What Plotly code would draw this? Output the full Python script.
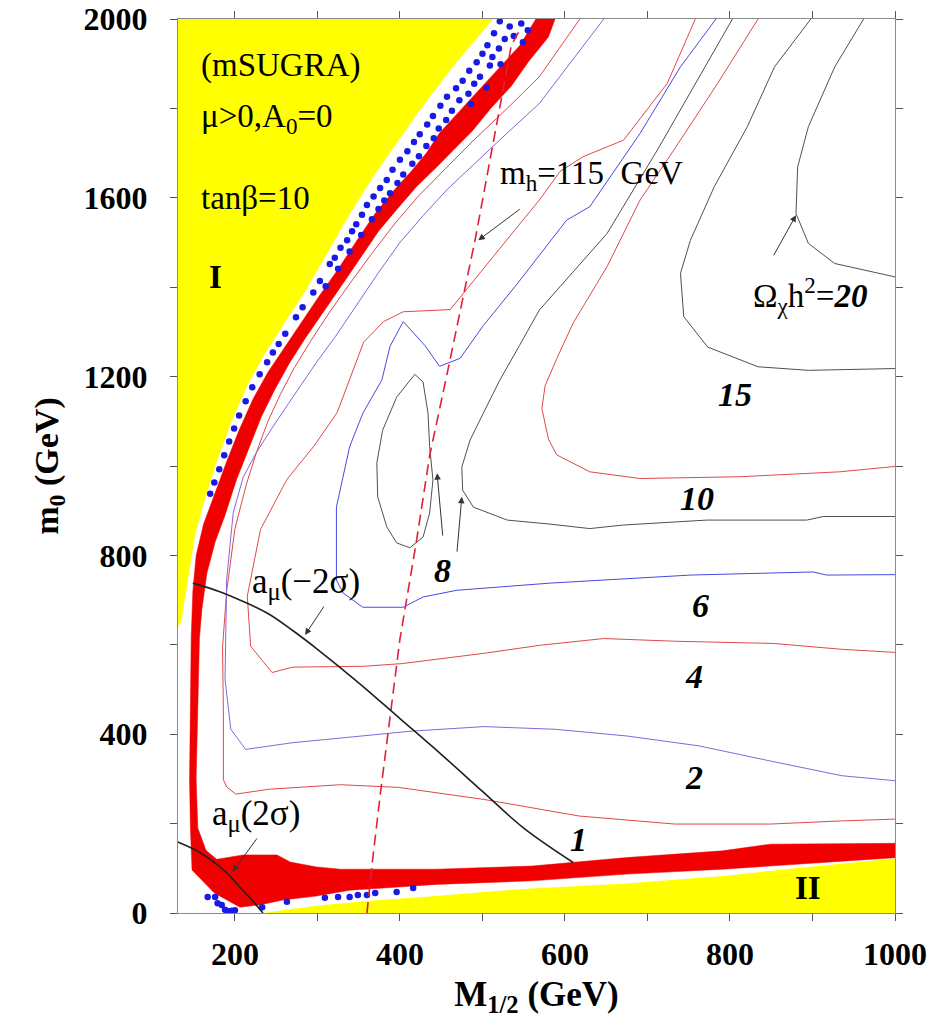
import plotly.graph_objects as go

# ---------------- data (M_1/2 in GeV, m_0 in GeV) ----------------
# excluded region I (upper left)
yellow_I_x = [100, 513, 464, 424, 395, 365, 338, 310, 285, 260, 236, 215, 196, 180, 166, 152, 143, 135, 131, 100]
yellow_I_y = [2000, 2000, 1893, 1796, 1720, 1640, 1560, 1470, 1390, 1320, 1250, 1180, 1100, 1020, 940, 850, 750, 652, 640, 640]
# excluded region II (bottom)
yellow_II_x = [234, 300, 360, 444, 521, 560, 675, 791, 907, 1010, 1010]
yellow_II_y = [0, 17, 27, 38, 50, 55, 66, 83, 105, 124, 0]

# allowed band: outer edge (top -> bottom -> right) and inner edge (top -> bottom -> right)
band_outer_x = [568, 545, 515, 490, 470, 448, 432, 414, 392, 370, 348, 325, 302, 280, 260, 240, 222, 205, 190, 176, 162, 153, 149, 147, 146, 145, 146, 148, 175, 206, 230, 258, 299, 339, 357, 444, 560, 675, 791, 907, 1010]
band_outer_y = [2010, 1940, 1880, 1830, 1790, 1745, 1700, 1660, 1615, 1565, 1505, 1440, 1380, 1320, 1265, 1210, 1150, 1080, 1010, 940, 870, 800, 720, 615, 450, 300, 193, 96, 45, 13, 18, 29, 38, 51, 53, 64, 72, 87, 98, 113, 125]
band_inner_x = [590, 580, 556, 535, 510, 488, 466, 444, 420, 398, 374, 350, 326, 305, 285, 266, 248, 232, 217, 202, 188, 176, 166, 160, 157, 155, 153, 155, 165, 178, 210, 251, 267, 299, 328, 444, 560, 675, 791, 849, 1010]
band_inner_y = [2010, 1960, 1905, 1850, 1800, 1750, 1710, 1668, 1625, 1578, 1525, 1460, 1395, 1340, 1285, 1230, 1170, 1110, 1040, 970, 890, 830, 760, 680, 615, 450, 300, 190, 140, 120, 130, 130, 114, 103, 98, 98, 105, 124, 139, 154, 156]

# scanned points (blue dots)
dots_x = [521, 533, 547, 555, 514, 538, 527, 549, 506, 520, 500, 512, 493, 509, 522, 484, 497, 476, 490, 505,
          468, 483, 457, 472, 486, 449, 463, 440, 456, 433, 447, 424, 441, 417, 432, 409, 423, 400, 415, 391,
          404, 384, 397, 376, 388, 368, 381, 360, 374, 354, 366, 347, 342, 353, 336, 328, 339, 321, 315, 325,
          303, 310, 295, 282, 274, 261, 253, 246, 239, 230, 221, 213, 205, 199, 193, 187, 181, 175, 170,
          167, 176, 179, 184, 188, 192, 196, 200, 233, 263, 309, 325, 339, 349, 360, 370, 396, 416]
dots_y = [1995, 1983, 1990, 1975, 1968, 1962, 1955, 1948, 1941, 1934, 1922, 1915, 1903, 1896, 1899, 1884, 1871, 1862, 1855, 1847,
          1845, 1833, 1826, 1818, 1810, 1806, 1795, 1783, 1774, 1764, 1755, 1742, 1733, 1725, 1716, 1704, 1693, 1685, 1676, 1663,
          1652, 1640, 1633, 1622, 1610, 1603, 1594, 1584, 1575, 1562, 1552, 1541, 1525, 1517, 1505, 1488, 1480, 1466, 1452, 1441,
          1414, 1402, 1388, 1355, 1333, 1296, 1273, 1254, 1232, 1205, 1176, 1145, 1113, 1084, 1055, 1024, 993, 963, 938,
          36, 36, 22, 18, 7, 4, 5, 6, 13, 25, 34, 36, 36, 40, 40, 45, 47, 56]

# relic density contours Omega h^2
c1_x = [618, 569, 530, 490, 455, 423, 395, 367, 340, 315, 292, 272, 255, 240, 226, 214, 200, 190, 185, 186, 186, 190, 201, 242, 328, 398, 502, 617, 733, 849, 935, 1000]
c1_y = [2000, 1871, 1800, 1730, 1665, 1605, 1545, 1478, 1410, 1345, 1280, 1220, 1160, 1100, 1030, 960, 860, 720, 595, 450, 298, 282, 266, 277, 287, 281, 254, 217, 199, 199, 206, 210]
c2_x = [647, 569, 530, 492, 458, 428, 400, 373, 347, 322, 300, 283, 265, 245, 226, 210, 198, 190, 188, 195, 213, 270, 357, 415, 502, 588, 675, 762, 849, 936, 1000]
c2_y = [2000, 1811, 1745, 1680, 1620, 1560, 1500, 1430, 1360, 1290, 1235, 1190, 1140, 1085, 1030, 975, 896, 747, 523, 411, 366, 381, 396, 407, 417, 411, 396, 374, 340, 307, 296]
c4_x = [758, 724, 671, 622, 594, 569, 541, 485, 461, 404, 380, 356, 339, 324, 296, 263, 231, 215, 219, 245, 270, 357, 403, 502, 570, 647, 733, 853, 935, 1000]
c4_y = [2000, 1856, 1729, 1692, 1659, 1595, 1532, 1405, 1350, 1345, 1323, 1277, 1195, 1120, 1045, 970, 858, 709, 597, 538, 550, 552, 558, 581, 599, 614, 608, 603, 590, 583]
c6_x = [783, 740, 691, 630, 602, 541, 501, 473, 448, 430, 404, 388, 378, 355, 339, 323, 323, 331, 355, 404, 428, 469, 582, 650, 752, 901, 917, 1000]
c6_y = [2000, 1893, 1744, 1580, 1550, 1405, 1314, 1241, 1223, 1270, 1323, 1268, 1192, 1118, 1043, 908, 745, 716, 684, 684, 707, 722, 738, 745, 756, 763, 756, 757]
c8_x = [803, 765, 712, 651, 610, 569, 545, 521, 501, 485, 475, 476, 489, 530, 582, 630, 671, 772, 893, 913, 1000]
c8_y = [2000, 1878, 1707, 1520, 1435, 1349, 1270, 1192, 1118, 1058, 998, 946, 908, 879, 870, 860, 868, 879, 879, 887, 887]
c8_loop_x = [418, 428, 434, 436, 440, 436, 428, 412, 396, 384, 373, 372, 379, 396, 418]
c8_loop_y = [1205, 1188, 1118, 1043, 969, 895, 841, 817, 828, 864, 931, 1007, 1080, 1154, 1205]
c10_x = [834, 785, 732, 691, 651, 610, 590, 576, 572, 580, 590, 630, 691, 812, 933, 1000]
c10_y = [2000, 1856, 1707, 1595, 1446, 1320, 1240, 1180, 1129, 1060, 1025, 987, 972, 976, 987, 999]
c15_x = [898, 854, 821, 781, 752, 740, 744, 773, 834, 895, 1000]
c15_y = [2000, 1893, 1759, 1625, 1505, 1431, 1334, 1266, 1222, 1214, 1218]
c20_x = [962, 927, 895, 882, 880, 895, 927, 1000]
c20_y = [2000, 1893, 1759, 1669, 1565, 1498, 1453, 1423]

# light Higgs mass m_h = 115 GeV (dashed)
mh_x = [360, 366, 377, 389, 400, 420, 436, 457, 491, 535, 545]
mh_y = [0, 106, 278, 449, 613, 832, 1023, 1205, 1505, 1941, 1975]
# g-2 bounds
amu_m2_x = [149, 180, 210, 240, 270, 300, 350, 400, 450, 500, 550, 610]
amu_m2_y = [738, 720, 697, 670, 632, 590, 515, 435, 355, 272, 190, 113]
amu_p2_x = [125, 150, 170, 190, 205, 220, 234]
amu_p2_y = [163, 143, 120, 90, 60, 30, 0]

x_ticks = [200, 400, 600, 800, 1000]
x_minor = [300, 500, 700, 900]
y_ticks = [0, 400, 800, 1200, 1600, 2000]
y_minor = [200, 600, 1000, 1400, 1800]

SERIF = "Liberation Serif, Times New Roman, serif"
RED = "#f00000"
YEL = "#ffff00"
THIN_RED = "#e04848"
PURPLE = "#8a64d8"
BLUE = "#4848e0"
BLACK_C = "#505050"

fig = go.Figure()

fig.add_trace(go.Scatter(x=yellow_I_x, y=yellow_I_y, fill="toself", fillcolor=YEL,
                         line=dict(width=0), mode="lines", hoverinfo="skip"))
fig.add_trace(go.Scatter(x=yellow_II_x, y=yellow_II_y, fill="toself", fillcolor=YEL,
                         line=dict(width=0), mode="lines", hoverinfo="skip"))

band_x = band_outer_x + band_inner_x[::-1]
band_y = band_outer_y + band_inner_y[::-1]
fig.add_trace(go.Scatter(x=band_x, y=band_y, fill="toself", fillcolor=RED,
                         line=dict(width=0.5, color=RED), mode="lines", hoverinfo="skip"))

fig.add_trace(go.Scatter(x=dots_x, y=dots_y, mode="markers",
                         marker=dict(size=6.5, color="#1a1ae6")))

for cx, cy, col in [(c1_x, c1_y, THIN_RED), (c2_x, c2_y, PURPLE), (c4_x, c4_y, THIN_RED),
                    (c6_x, c6_y, BLUE), (c8_x, c8_y, BLACK_C), (c8_loop_x, c8_loop_y, BLACK_C),
                    (c10_x, c10_y, THIN_RED), (c15_x, c15_y, BLACK_C), (c20_x, c20_y, BLACK_C)]:
    fig.add_trace(go.Scatter(x=cx, y=cy, mode="lines", line=dict(color=col, width=1)))

fig.add_trace(go.Scatter(x=mh_x, y=mh_y, mode="lines",
                         line=dict(color="#e0203a", width=1.6, dash="11px,6px")))
fig.add_trace(go.Scatter(x=amu_m2_x, y=amu_m2_y, mode="lines",
                         line=dict(color="#202020", width=1.6, shape="spline")))
fig.add_trace(go.Scatter(x=amu_p2_x, y=amu_p2_y, mode="lines",
                         line=dict(color="#202020", width=1.6, shape="spline")))

ann = []
def txt(x, y, t, size=32, anchor="left"):
    ann.append(dict(x=x, y=y, xref="x", yref="y", text=t, showarrow=False,
                    xanchor=anchor, yanchor="middle",
                    font=dict(family=SERIF, size=size, color="black")))

def arrow(x0, y0, x1, y1):
    ann.append(dict(x=x1, y=y1, ax=x0, ay=y0, xref="x", yref="y", axref="x", ayref="y",
                    text="", showarrow=True, arrowhead=2, arrowsize=1.3, arrowwidth=1,
                    arrowcolor="#333333", standoff=0, startstandoff=0))

txt(157, 1897, "(mSUGRA)", size=33)
txt(157, 1778, "μ&gt;0,A<sub>0</sub>=0", size=33)
txt(157, 1599, "tanβ=10", size=33)
txt(166, 1423, "<b>I</b>", size=33)
txt(876, 57, "<b>II</b>", size=33)
txt(519, 1650, "m<sub>h</sub>=115  GeV", size=33)
txt(218, 738, "a<sub>μ</sub>(−2σ)", size=35)
txt(170, 219, "a<sub>μ</sub>(2σ)", size=35)
txt(826, 1382, "Ω<sub>χ</sub>h<sup>2</sup>=<b><i>20</i></b>", size=33)
for (lx, ly, lt) in [(806, 1159, "15"), (760, 928, "10"), (764, 689, "6"), (756, 530, "4"),
                     (756, 303, "2"), (617, 165, "1"), (452, 767, "8")]:
    txt(lx, ly, "<b><i>%s</i></b>" % lt, size=34, anchor="center")

arrow(547, 1577, 495, 1505)
arrow(309, 689, 285, 622)
arrow(228, 170, 197, 92)
arrow(452, 841, 445, 984)
arrow(469, 805, 475, 931)
arrow(852, 1468, 880, 1561)

axis_common = dict(showgrid=False, zeroline=False, showline=True, linecolor="#8a8a8a", linewidth=1,
                   mirror="ticks", ticks="outside", ticklen=7, tickcolor="#555555", tickwidth=1,
                   automargin=False,
                   tickfont=dict(family=SERIF, size=32, color="black", weight="bold"))

fig.update_layout(
    width=936, height=1018,
    margin=dict(l=178, r=41, t=19, b=105),
    paper_bgcolor="white", plot_bgcolor="white",
    showlegend=False,
    annotations=ann,
    xaxis=dict(range=[131, 1000], tickmode="array", tickvals=x_ticks,
               minor=dict(tickvals=x_minor, ticks="outside", ticklen=7, tickcolor="#555555"),
               title=dict(text="<b>M<sub>1/2</sub> (GeV)</b>", standoff=12,
                          font=dict(family=SERIF, size=35, color="black")),
               ticklabelstandoff=6, **axis_common),
    yaxis=dict(range=[0, 2000], tickmode="array", tickvals=y_ticks,
               minor=dict(tickvals=y_minor, ticks="outside", ticklen=7, tickcolor="#555555"),
               title=dict(text="<b>m<sub>0</sub> (GeV)</b>", standoff=14,
                          font=dict(family=SERIF, size=34, color="black")),
               ticklabelstandoff=16, **axis_common),
)

fig.write_html("out.html")
